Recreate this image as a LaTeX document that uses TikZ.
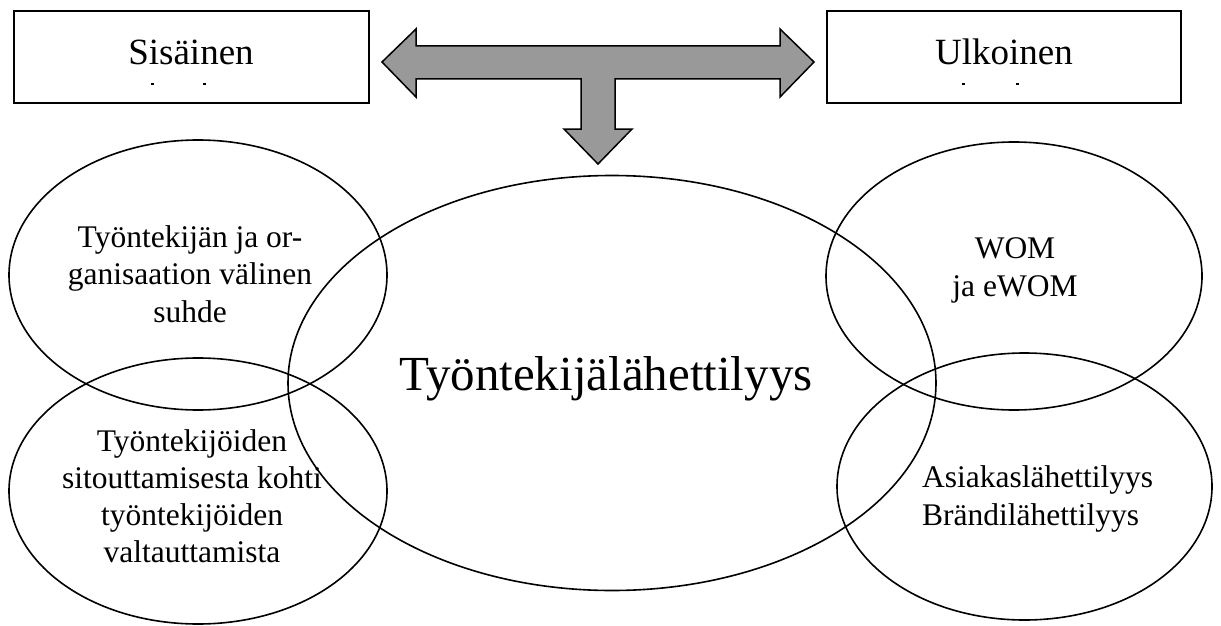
\documentclass[tikz,border=0pt]{standalone}
\usepackage{fontspec}
\setmainfont{Liberation Serif}
\usetikzlibrary{shapes.geometric}
\definecolor{arrowgray}{RGB}{153,153,153}
\tikzset{
  oval/.style={draw=black, line width=1.6pt, ellipse, inner sep=0pt},
  bodytext/.style={font=\fontsize{31.5}{37.5}\selectfont, align=center, inner sep=0pt},
  boxtext/.style={font=\fontsize{37}{42}\selectfont, inner sep=0pt},
  topbox/.style={draw=black, line width=1.8pt, inner sep=0pt},
}
\begin{document}
\begin{tikzpicture}[x=1pt,y=-1pt]
\useasboundingbox (0,0) rectangle (1221,626);
\fill[white] (0,0) rectangle (1221,626);
% top boxes
\node[topbox, minimum width=355pt, minimum height=92pt] (sis) at (191.5,57) {};
\node[topbox, minimum width=354pt, minimum height=92pt] (ulk) at (1004,57) {};
\node[boxtext, anchor=base] (sist) at (191,64) {Sisäinen};
\node[boxtext, anchor=base] (ulkt) at (1004,64) {Ulkoinen};
\fill (150.5,83) rectangle (153.5,85);
\fill (202.5,83) rectangle (205.5,85);
\fill (961.5,83) rectangle (964.5,85);
\fill (1015.5,83) rectangle (1018.5,85);
% T arrow
\draw[fill=arrowgray, line width=1.5pt, line join=miter]
  (382,62) -- (416,29) -- (416,46) -- (780,46) -- (780,29) -- (814,62)
  -- (780,97) -- (780,79) -- (615,79) -- (615,129) -- (632,129) -- (598,164)
  -- (564,129) -- (581,129) -- (581,79) -- (416,79) -- (416,97) -- cycle;
% ellipses
\node[oval, minimum width=378pt, minimum height=270pt] (tl) at (198,275) {};
\node[oval, minimum width=378pt, minimum height=266pt] (bl) at (198,491) {};
\node[oval, minimum width=648pt, minimum height=415pt] (c) at (612,383) {};
\node[oval, minimum width=376pt, minimum height=268pt] (tr) at (1014,276) {};
\node[oval, minimum width=375pt, minimum height=267pt] (br) at (1024.5,486.5) {};
% texts (base anchor = baseline of the last line)
\node[bodytext, anchor=base] (tlt) at (190,322) {Työntekijän ja or-\\ganisaation välinen\\suhde};
\node[bodytext, anchor=base, font=\fontsize{31.5}{36.7}\selectfont] (blt) at (192,562) {Työntekijöiden\\sitouttamisesta kohti\\työntekijöiden\\valtauttamista};
\node[bodytext, anchor=base, font=\fontsize{31.5}{38}\selectfont] (trt) at (1015,296) {WOM\\ja eWOM};
\node[bodytext, anchor=base west, align=left, font=\fontsize{31.5}{38}\selectfont] (brt) at (922,525) {Asiakaslähettilyys\\Brändilähettilyys};
\node[inner sep=0pt, anchor=base, font=\fontsize{49}{54}\selectfont] (ct) at (606,390) {Työntekijälähettilyys};
\end{tikzpicture}
\end{document}
